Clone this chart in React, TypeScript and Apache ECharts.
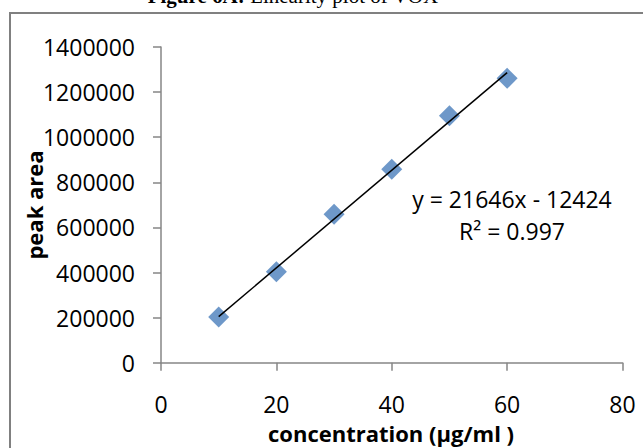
import React, { useEffect, useRef } from "react";
import * as echarts from "echarts";

const concentrations = [10, 20, 30, 40, 50, 60];
const peakAreas = [203000, 403000, 658000, 858000, 1095000, 1261000];
const slope = 21646;
const intercept = -12424;
const trendRange = [10, 60];
const equationText = "y = 21646x - 12424";
const r2Text = "R² = 0.997";
const titleBold = "Figure 6A:";
const titleRest = " Linearity plot of VOX";
const xName = "concentration (µg/ml )";
const yName = "peak area";

export default function App() {
  const ref = useRef<HTMLDivElement>(null);
  useEffect(() => {
    if (!ref.current) return;
    const chart = echarts.init(ref.current, null, { renderer: "svg" });
    const font = "'Open Sans', sans-serif";
    const axisColor = "#868686";
    const trend = trendRange.map((x) => [x, slope * x + intercept]);
    chart.setOption({
      animation: false,
      backgroundColor: "#ffffff",
      grid: { left: 161, top: 47, right: 20.5, bottom: 85.3 },
      xAxis: {
        type: "value",
        min: 0,
        max: 80,
        interval: 20,
        axisLine: { show: true, lineStyle: { color: axisColor, width: 1.5 } },
        axisTick: { show: true, length: 8, lineStyle: { color: axisColor, width: 1.5 } },
        splitLine: { show: false },
        axisLabel: { color: "#000", fontFamily: font, fontSize: 23, margin: 30, formatter: (v: number) => String(v) },
      },
      yAxis: {
        type: "value",
        min: 0,
        max: 1400000,
        interval: 200000,
        axisLine: { show: true, lineStyle: { color: axisColor, width: 1.5 } },
        axisTick: { show: true, length: 8, lineStyle: { color: axisColor, width: 1.5 } },
        splitLine: { show: false },
        axisLabel: { color: "#000", fontFamily: font, fontSize: 23, margin: 26, formatter: (v: number) => String(v) },
      },
      series: [
        {
          type: "line",
          data: trend,
          symbol: "none",
          lineStyle: { color: "#000", width: 1.5 },
          z: 3,
        },
        {
          type: "scatter",
          data: concentrations.map((x, i) => [x, peakAreas[i]]),
          symbol: "diamond",
          symbolSize: 21,
          itemStyle: { color: "#4a7ebb" },
          z: 2,
        },
      ],
      graphic: [
        {
          type: "rect",
          shape: { x: 10, y: 13, width: 700, height: 500 },
          style: { fill: "none", stroke: "#808080", lineWidth: 2 },
          z: -1,
        },
        {
          type: "text",
          x: 293,
          y: 6,
          style: {
            text: "{b|" + titleBold + "}{r|" + titleRest + "}",
            align: "center",
            verticalAlign: "bottom",
            rich: {
              b: { fontFamily: "'Liberation Serif', serif", fontWeight: "bold", fontSize: 21, fill: "#000" },
              r: { fontFamily: "'Liberation Serif', serif", fontSize: 21, fill: "#000" },
            },
          },
        },
        {
          type: "text",
          x: 512,
          y: 199,
          style: {
            text: equationText,
            align: "center",
            verticalAlign: "middle",
            fontFamily: font,
            fontSize: 23,
            fill: "#000",
          },
        },
        {
          type: "text",
          x: 512,
          y: 231,
          style: {
            text: r2Text,
            align: "center",
            verticalAlign: "middle",
            fontFamily: font,
            fontSize: 23,
            fill: "#000",
          },
        },
        {
          type: "text",
          x: 391,
          y: 433,
          style: {
            text: xName,
            align: "center",
            verticalAlign: "middle",
            fontFamily: font,
            fontWeight: "bold",
            fontSize: 22,
            fill: "#000",
          },
        },
        {
          type: "text",
          x: 34,
          y: 205,
          rotation: Math.PI / 2,
          style: {
            text: yName,
            align: "center",
            verticalAlign: "middle",
            fontFamily: font,
            fontWeight: "bold",
            fontSize: 22,
            fill: "#000",
          },
        },
      ],
    });
    return () => chart.dispose();
  }, []);
  return <div ref={ref} style={{ width: 643, height: 448, position: "absolute", left: 0, top: 0 }} />;
}
